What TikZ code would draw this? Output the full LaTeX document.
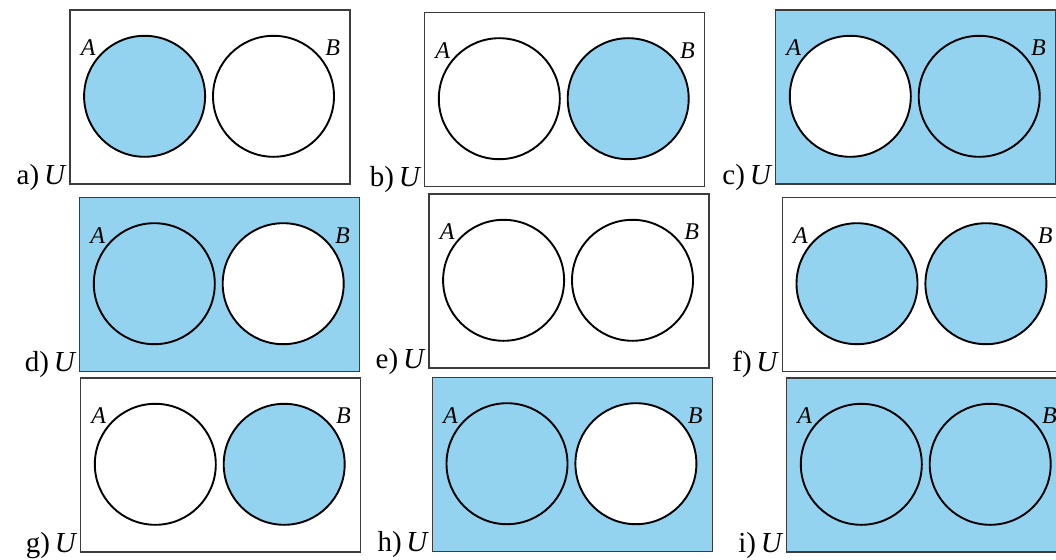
\documentclass[tikz,border=0pt]{standalone}
\usepackage{fontspec}
\setmainfont{Liberation Serif}
\usepackage{tikz}
\definecolor{setblue}{RGB}{148,211,240}
\definecolor{framegray}{RGB}{60,60,60}
\tikzset{
  universe/.style={draw=framegray, line width=1.4pt, anchor=north west,
                   minimum width=280pt, minimum height=174pt, inner sep=0pt},
  setring/.style={circle, draw=black, line width=1.9pt, minimum size=121pt,
                  inner sep=0pt},
  setname/.style={font=\fontsize{24}{28}\selectfont\itshape, inner sep=0pt},
  tag/.style={font=\fontsize{29}{34}\selectfont, inner sep=0pt, anchor=base east}
}

\begin{document}
\begin{tikzpicture}[x=1pt, y=-1pt]
  \useasboundingbox (0,0) rectangle (1056,559);
  % panels: name/left/top/fill U/fill A/fill B
  \foreach \p/\x/\y/\cu/\ca/\cb in {
      a/69.3/9.3/white/setblue/white,
      b/424/11.7/white/white/setblue,
      c/775/9.3/setblue/white/setblue,
      d/79/196.7/setblue/setblue/white,
      e/428.3/193.3/white/white/white,
      f/781.7/196.7/white/setblue/setblue,
      g/80/377.3/white/white/setblue,
      h/431.7/376.7/setblue/setblue/white,
      i/786/377.3/setblue/setblue/setblue}{
    \node[universe, fill=\cu] (\p-U) at (\x, \y) {};
    \node[setring, fill=\ca] (\p-A) at (\x+75.3, \y+87) {};
    \node[setring, fill=\cb] (\p-B) at (\x+204.2, \y+87) {};
    \node[setname] (\p-la) at (\x+18.8, \y+38.5) {A};
    \node[setname] (\p-lb) at (\x+263.5, \y+38.5) {B};
    \node[tag] (\p-tag) at (\x-2.5, \y+175) {\p)\,\textit{U}};
  }
\end{tikzpicture}
\end{document}
